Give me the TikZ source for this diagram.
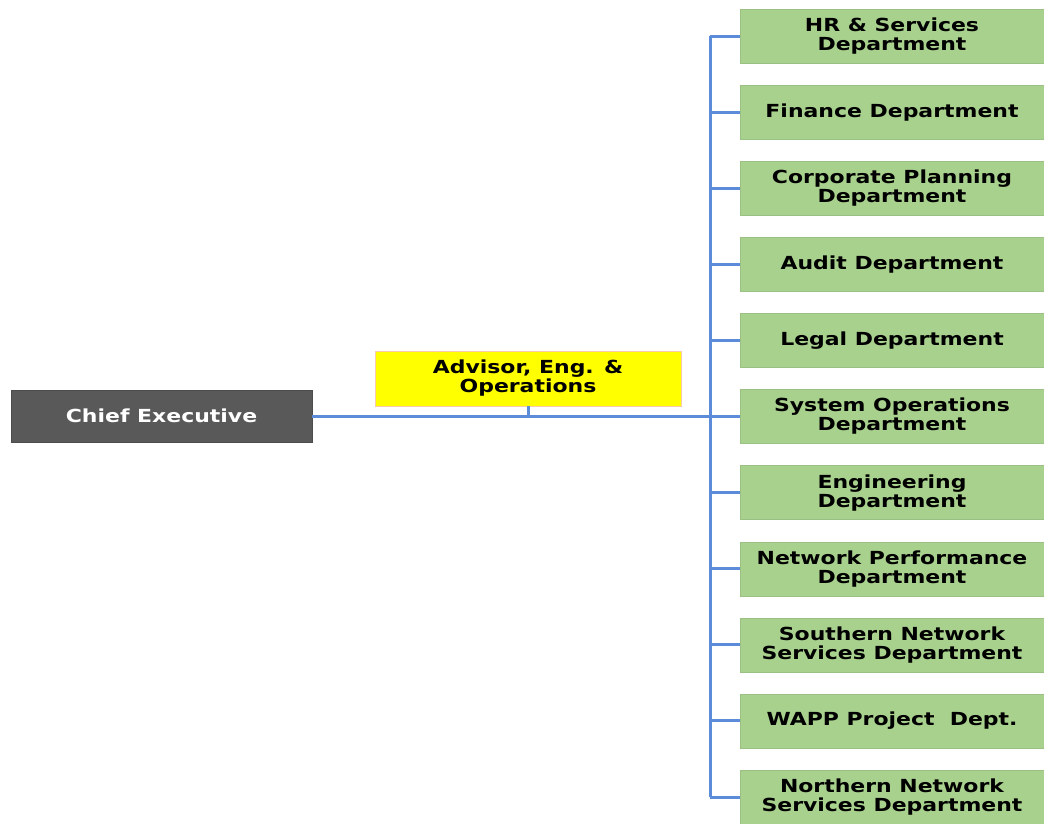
\documentclass[tikz,border=0pt]{standalone}
\usepackage{fontspec}
\setmainfont{DejaVu Sans}
\newfontfamily\widefont[FakeStretch=1.22]{DejaVu Sans}
\begin{document}
\begin{tikzpicture}[x=1pt,y=-1pt,
  every node/.style={font=\widefont\bfseries\fontsize{18}{19}\selectfont, align=center, inner sep=0pt},
  dept/.style={fill=deptgreen, draw=deptgreen!92!black, line width=0.4pt, minimum width=304pt, minimum height=54pt},
  chief/.style={fill=chiefgray, draw=chiefgray!85!black, text=white, minimum width=301pt, minimum height=52pt},
  advisor/.style={fill=advyellow, draw=advborder, line width=0.8pt, minimum width=306pt, minimum height=55pt},
  link/.style={draw=linkblue, line width=3pt}
]
\definecolor{deptgreen}{HTML}{A9D18E}
\definecolor{chiefgray}{HTML}{595959}
\definecolor{advyellow}{HTML}{FFFF00}
\definecolor{advborder}{HTML}{F8CBAD}
\definecolor{linkblue}{HTML}{5B8BD9}
\useasboundingbox (0,0) rectangle (1044,823);

\node[chief] (ce) at (161.5,416) {Chief Executive};
\node[advisor] (adv) at (528,378.5) {Advisor, Eng. \&\\Operations};

% department column
\foreach \name/\txt [count=\i from 0] in {
  hr/{HR \& Services\\Department},
  fin/{Finance Department},
  cp/{Corporate Planning\\Department},
  aud/{Audit Department},
  leg/{Legal Department},
  sys/{System Operations\\Department},
  eng/{Engineering\\Department},
  np/{Network Performance\\Department},
  sns/{Southern Network\\Services Department},
  wapp/{WAPP Project~ Dept.},
  nns/{Northern Network\\Services Department}} {
  \node[dept] (\name) at (892,36+76.1*\i) {\txt};
}

\coordinate (bus) at (710,416);
\coordinate (tap) at (528,416);
\coordinate (top) at (710,36);
\coordinate (bot) at (710,797);

\draw[link] (ce.east) -- (bus);
\draw[link] (adv.south) -- (tap);
\draw[link] (top) -- (bot);
\foreach \name in {hr,fin,cp,aud,leg,sys,eng,np,sns,wapp,nns}
  \draw[link] (\name.west) -- (\name.west -| bus);
\end{tikzpicture}
\end{document}
